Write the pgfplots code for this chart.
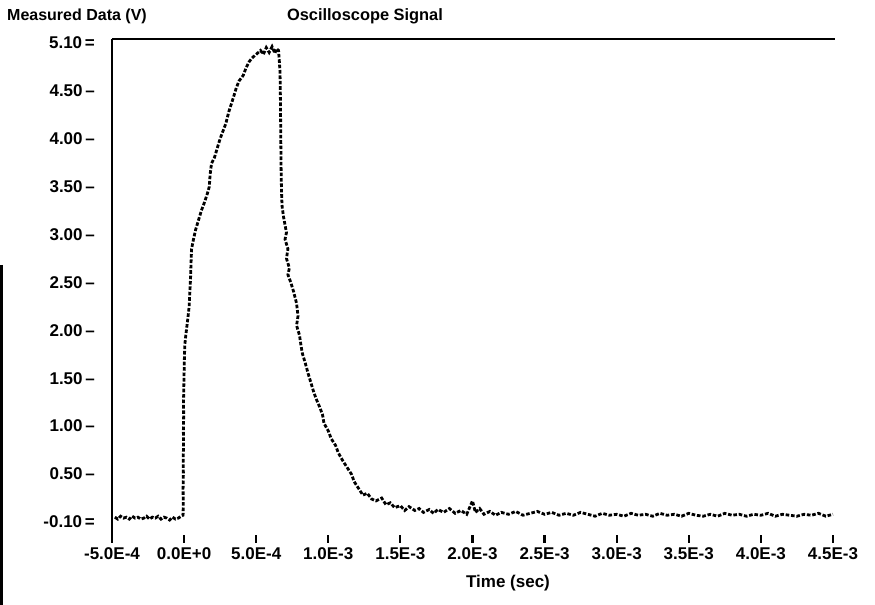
\documentclass[border=0pt]{standalone}
\usepackage{fontspec}
\setmainfont{Liberation Sans}
\usepackage{pgfplots}
\pgfplotsset{compat=1.18}
\begin{document}
\begin{tikzpicture}
\begin{axis}[
  scale only axis, width=361.5pt, height=248pt,
  at={(0,0)}, anchor=south west,
  xmin=-0.5, xmax=4.514, ymin=-0.136, ymax=5.04,
  axis lines=left,
  axis line style={-},
  x axis line style={draw=none},
  y axis line style={line width=1.3pt},
  tick align=outside,
  xtick={-0.5,0,0.5,1,1.5,2,2.5,3,3.5,4,4.5},
  xticklabels={-5.0E-4,0.0E+0,5.0E-4,1.0E-3,1.5E-3,2.0E-3,2.5E-3,3.0E-3,3.5E-3,4.0E-3,4.5E-3},
  x tick style={line width=1.1pt, black},
  major tick length=4pt,
  xticklabel style={font=\bfseries\fontsize{8.5}{10}\selectfont, yshift=1pt},
  ytick={0,0.5,1,1.5,2,2.5,3,3.5,4,4.5,5},
  yticklabels={{-0.10\,=},{0.50\,--},{1.00\,--},{1.50\,--},{2.00\,--},{2.50\,--},{3.00\,--},{3.50\,--},{4.00\,--},{4.50\,--},{5.10\,=}},
  y tick style={draw=none},
  yticklabel style={font=\bfseries\fontsize{8.5}{10}\selectfont, xshift=-1pt},
  clip=false,
]
\addplot[black, line width=1.4pt, dash pattern=on 1.8pt off 0.9pt] coordinates {
(-0.48,0.05) (-0.46,0.03) (-0.44,0.06) (-0.42,0.04) (-0.40,0.05) (-0.38,0.03) (-0.36,0.06) (-0.34,0.04) (-0.32,0.05) (-0.30,0.03) (-0.28,0.04) (-0.26,0.06) (-0.24,0.03) (-0.22,0.05) (-0.20,0.04) (-0.18,0.06) (-0.16,0.03) (-0.14,0.05) (-0.12,0.04) (-0.10,0.02) (-0.08,0.05) (-0.06,0.03) (-0.04,0.04) (-0.02,0.06)
(-0.007,0.07) (-0.006,0.20) (-0.007,0.35) (-0.005,0.50) (-0.006,0.65) (-0.004,0.80) (-0.005,0.95) (-0.003,1.10) (-0.004,1.25) (-0.002,1.40) (0.000,1.55) (0.002,1.70) (0.005,1.85) (0.012,1.95) (0.020,2.05) (0.028,2.15) (0.035,2.25) (0.040,2.40) (0.045,2.55) (0.048,2.70) (0.052,2.85) (0.065,2.95) (0.08,3.05) (0.10,3.15) (0.12,3.25) (0.14,3.33) (0.16,3.42) (0.175,3.50) (0.18,3.62) (0.19,3.74) (0.21,3.80) (0.23,3.90) (0.25,4.00) (0.27,4.08) (0.29,4.16) (0.31,4.28) (0.34,4.42) (0.36,4.52) (0.38,4.60) (0.41,4.66) (0.43,4.74) (0.45,4.80) (0.47,4.84) (0.50,4.88) (0.53,4.92) (0.55,4.88) (0.57,4.95) (0.59,4.90) (0.61,4.96) (0.63,4.89) (0.64,4.94) (0.655,4.92) (0.66,4.82)
(0.665,4.70) (0.667,4.55) (0.668,4.40) (0.669,4.25) (0.670,4.10) (0.671,3.95) (0.672,3.80) (0.673,3.65) (0.675,3.50) (0.677,3.38) (0.68,3.29) (0.69,3.18) (0.70,3.10) (0.71,3.02) (0.70,2.95) (0.72,2.85) (0.71,2.75) (0.73,2.65) (0.72,2.58) (0.74,2.50) (0.76,2.40) (0.78,2.28) (0.79,2.15) (0.78,2.05) (0.80,1.95) (0.81,1.85) (0.82,1.76) (0.84,1.66) (0.86,1.55) (0.88,1.45) (0.90,1.35) (0.92,1.27) (0.94,1.20) (0.96,1.12) (0.97,1.03) (1.00,0.95) (1.02,0.87) (1.05,0.80) (1.07,0.72) (1.10,0.64) (1.13,0.57) (1.16,0.50) (1.18,0.42) (1.21,0.35) (1.24,0.28) (1.27,0.30) (1.30,0.24) (1.33,0.22) (1.37,0.25) (1.40,0.18) (1.43,0.20) (1.46,0.15) (1.50,0.17) (1.53,0.12) (1.56,0.16) (1.60,0.12) (1.63,0.14) (1.66,0.10) (1.70,0.13) (1.73,0.09) (1.76,0.13) (1.80,0.10) (1.84,0.14) (1.88,0.09) (1.92,0.12) (1.96,0.08) (2.00,0.22) (2.02,0.10) (2.05,0.14) (2.08,0.08) (2.12,0.11) (2.16,0.07) (2.20,0.10) (2.25,0.08) (2.30,0.11) (2.35,0.07) (2.40,0.09) (2.45,0.11) (2.50,0.08) (2.55,0.10) (2.60,0.07) (2.65,0.09) (2.70,0.07) (2.75,0.10) (2.80,0.08) (2.85,0.06) (2.90,0.09) (2.95,0.07) (3.00,0.08) (3.05,0.06) (3.10,0.09) (3.15,0.07) (3.20,0.08) (3.25,0.06) (3.30,0.09) (3.35,0.07) (3.40,0.08) (3.45,0.06) (3.50,0.09) (3.55,0.07) (3.60,0.06) (3.65,0.08) (3.70,0.06) (3.75,0.09) (3.80,0.07) (3.85,0.08) (3.90,0.06) (3.95,0.08) (4.00,0.07) (4.05,0.09) (4.10,0.06) (4.15,0.08) (4.20,0.07) (4.25,0.06) (4.30,0.08) (4.35,0.07) (4.40,0.09) (4.45,0.06) (4.50,0.08)
};
\draw[line width=1.3pt] (rel axis cs:0,1) -- (rel axis cs:1,1);
\end{axis}
\node[font=\bfseries\fontsize{8}{10}\selectfont] at (-17.5pt,259.5pt) {Measured Data (V)};
\node[font=\bfseries\fontsize{8.2}{10}\selectfont] at (126.5pt,259.5pt) {Oscilloscope Signal};
\node[font=\bfseries\fontsize{8.5}{10}\selectfont] at (198pt,-24pt) {Time (sec)};
\draw[line width=1.5pt] (-55.2pt,135pt) -- (-55.2pt,-35pt);
\pgfresetboundingbox
\path (-56pt,-35pt) rectangle (381.5pt,267.5pt);
\end{tikzpicture}
\end{document}
